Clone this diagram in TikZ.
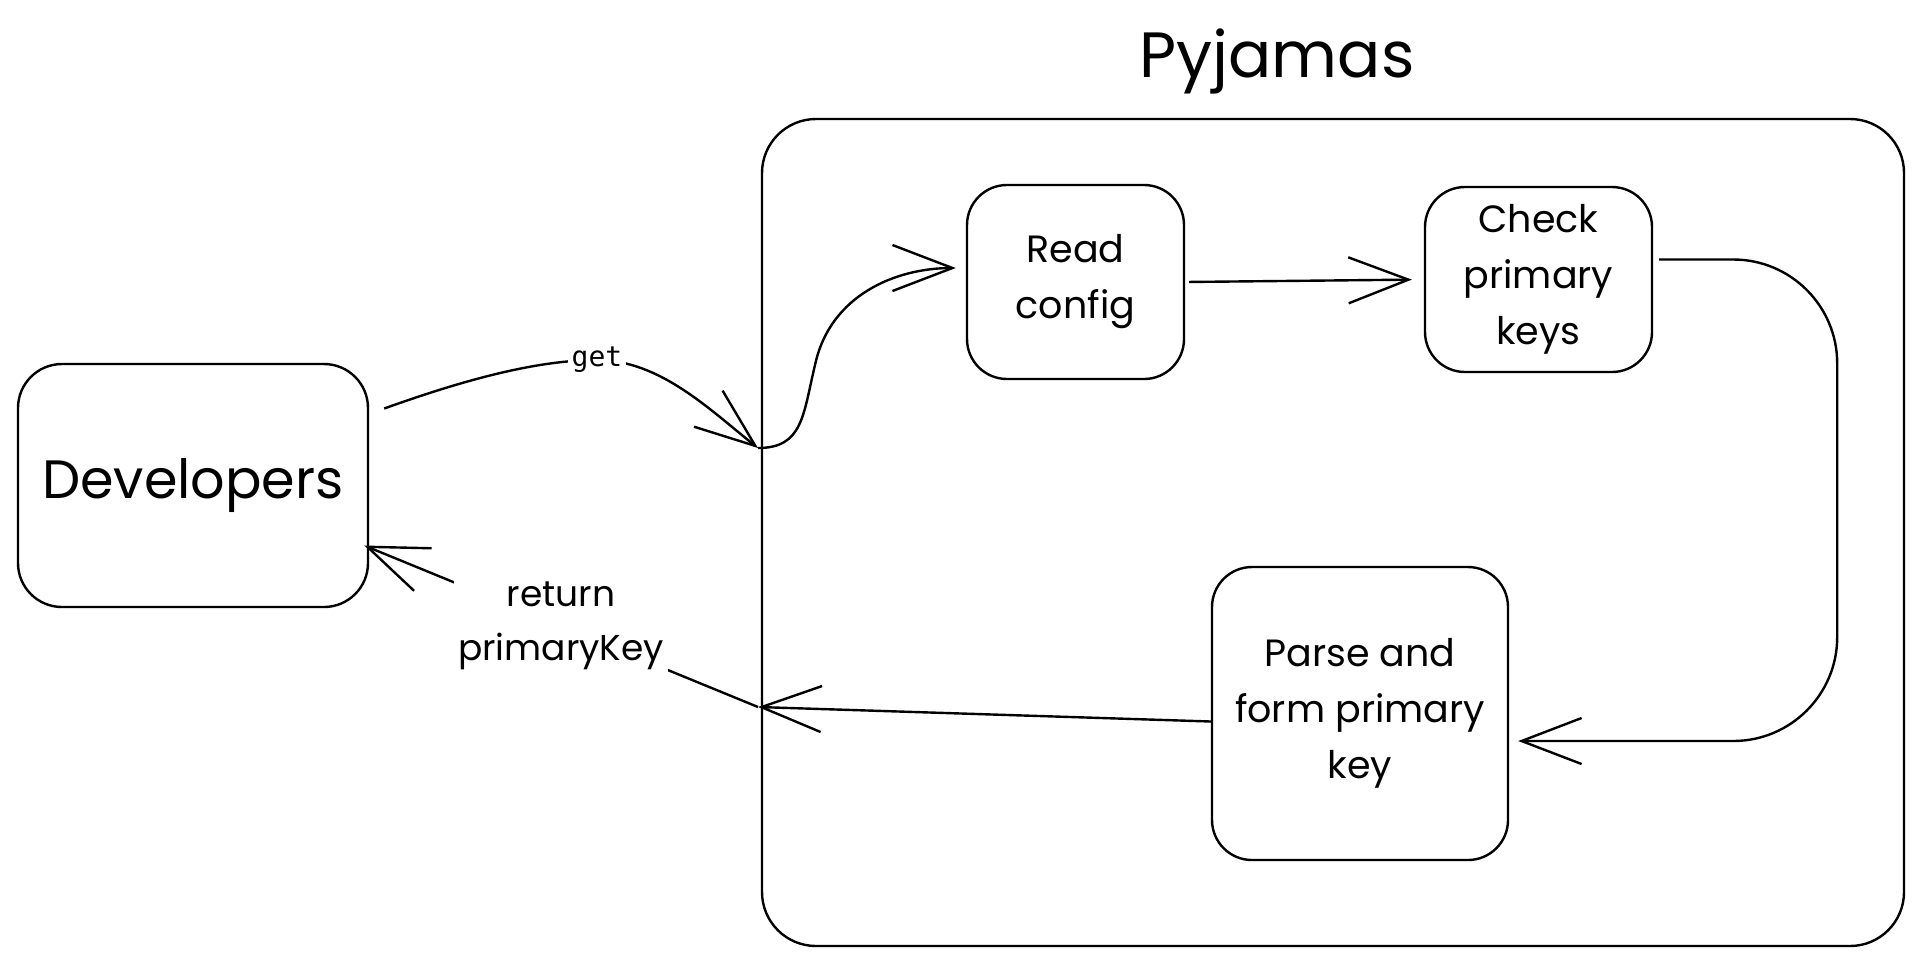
\documentclass[tikz,border=0pt]{standalone}
\usepackage{fontspec}
\setmainfont{Poppins}
\newfontfamily\codefont{DejaVu Sans Mono}
\usetikzlibrary{arrows.meta,calc}
\begin{document}
\begin{tikzpicture}
[x=0.5pt,y=-0.5pt,line width=1.2pt,
 box/.style={draw,rounded corners=20pt,align=center,inner sep=0pt,font=\fontsize{19}{28}\selectfont},
 lbl/.style={fill=white,inner sep=2pt,align=center,font=\fontsize{18}{27}\selectfont},
 flow/.style={-{Straight Barb[length=30pt,width=23pt]}}]
\useasboundingbox (0,0) rectangle (1926,965);
% container
\node[draw,rounded corners=27pt,minimum width=571pt,minimum height=413.5pt] (pyj) at (1333,532.5) {};
\node[font=\fontsize{32}{36}\selectfont] (title) at (1277,61) {Pyjamas};
% boxes
\node[box,rounded corners=22pt,minimum width=175pt,minimum height=121.5pt,font=\fontsize{27}{32}\selectfont] (dev) at (193,485.5) {Developers};
\node[box,minimum width=108.5pt,minimum height=97pt] (read) at (1075.5,282) {Read\\config};
\node[box,minimum width=113.5pt,minimum height=92.5pt] (check) at (1538.5,279.5) {Check\\primary\\keys};
\node[box,minimum width=148pt,minimum height=146.5pt] (parse) at (1360,713.5) {Parse and\\form primary\\key};
\coordinate (entry) at (758,448);
\coordinate (exit) at (758,707);
% get
\draw[flow] ($(dev.east)+(15,-77)$) .. controls (450,385) and (530,360) .. (597,360)
  node[lbl,font=\codefont\fontsize{14}{16}\selectfont] (getlbl) {get}
  .. controls (660,360) and (710,410) .. (entry);
\draw[flow] (entry) .. controls +(45,0) and +(-12,50) .. (815,365)
  .. controls +(15,-70) and +(-60,0) .. ($(read.west)+(-10,-14)$);
% pipeline
\draw[flow,shorten <=2pt,shorten >=6pt] (read.east) -- (check.west);
\draw[flow,rounded corners=52pt] ($(check.east)+(6,-20)$) -- ++(178,0) |- ($(parse.east)+(9,27.5)$);
\draw[flow] ($(parse.west)+(0,8)$) -- (exit);
% return
\draw[flow] (exit) -- node[lbl] (retlbl) {return\\primaryKey} ($(dev.east)+(-5,60)$);
\end{tikzpicture}
\end{document}
